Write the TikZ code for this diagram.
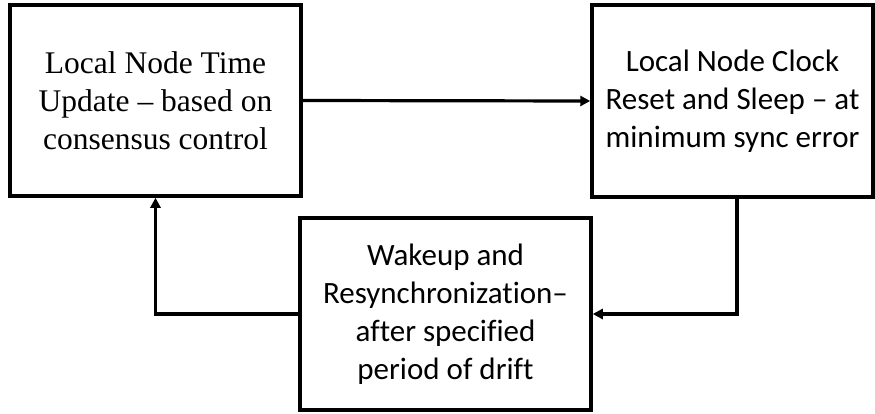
\documentclass[tikz,border=0pt]{standalone}
\usepackage{fontspec}
\usetikzlibrary{arrows.meta}
\newfontfamily\timesface[Ligatures=TeX]{Liberation Serif}
\newfontfamily\calibriface[Ligatures={TeX,NoCommon}]{Carlito}
\begin{document}
\begin{tikzpicture}[x=1pt,y=1pt,
  blockbox/.style={draw=black, line width=3.5pt, inner sep=0pt, align=center},
  flow/.style={line width=3.2pt, -{Triangle[length=10pt,width=10pt]}}]
  \useasboundingbox (0,0) rectangle (875,413);

  % process blocks
  \node[blockbox, minimum width=291pt, minimum height=191pt,
        font=\timesface\fontsize{31.5}{38}\selectfont]
    (update) at (155.5,312.5)
    {Local Node Time\\Update – based on\\consensus control};
  \node[blockbox, minimum width=281pt, minimum height=192pt,
        font=\calibriface\fontsize{31}{38}\selectfont]
    (reset) at (732.5,312)
    {Local Node Clock\\Reset and Sleep – at\\minimum sync error};
  \node[blockbox, minimum width=291pt, minimum height=192pt,
        font=\calibriface\fontsize{31}{38}\selectfont]
    (wake) at (445.5,99)
    {Wakeup and\\Resynchronization–\\after specified\\period of drift};

  % cycle connectors
  \draw[flow] (update.east) -- (reset.west);
  \draw[flow] ([xshift=4.5pt]reset.south) |- (wake.east);
  \draw[flow] (wake.west) -| (update.south);
\end{tikzpicture}
\end{document}
